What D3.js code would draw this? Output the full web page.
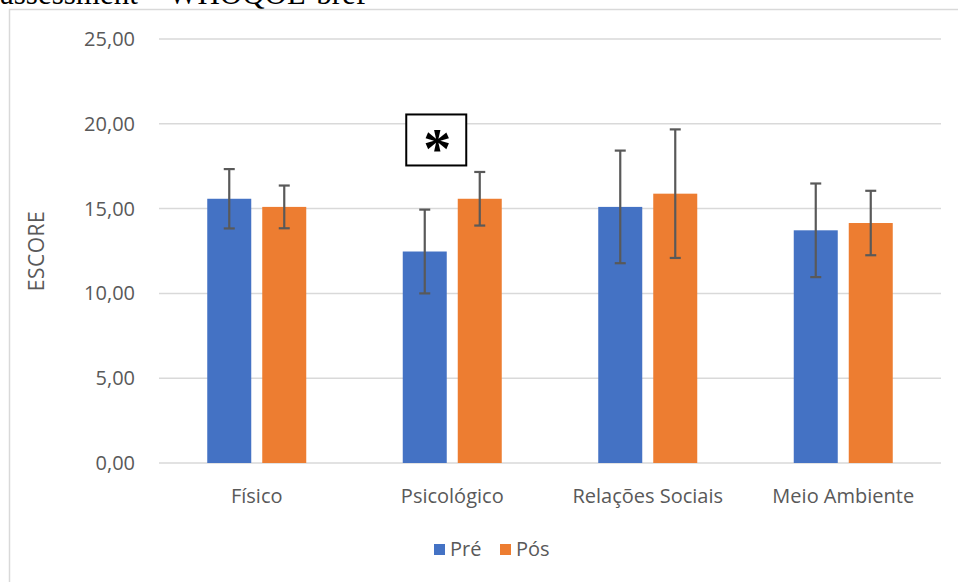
<!DOCTYPE html>
<html>
<head>
<meta charset="utf-8">
<script src="https://cdn.jsdelivr.net/npm/d3@7"></script>
<style>
  body { margin: 0; background: #fff; }
  svg { display: block; }
</style>
</head>
<body>
<div id="chart"></div>
<script>
var width = 958, height = 582;

var categories = ["Físico", "Psicológico", "Relações Sociais", "Meio Ambiente"];
var series = ["Pré", "Pós"];
var colors = ["#4472C4", "#ED7D31"];
var preMeans = [15.58, 12.47, 15.10, 13.72];
var preSd = [1.75, 2.47, 3.32, 2.76];
var posMeans = [15.10, 15.58, 15.88, 14.15];
var posSd = [1.26, 1.58, 3.79, 1.90];
var yTicks = [0, 5, 10, 15, 20, 25];

var font = "'Open Sans', 'Noto Sans', sans-serif";

var svg = d3.select("#chart").append("svg")
  .attr("width", width)
  .attr("height", height);

// caption of the page, cut off at the top
svg.append("text")
  .attr("x", 0)
  .attr("y", 4)
  .style("font-family", "'Liberation Serif', 'Times New Roman', serif")
  .style("font-size", "31px")
  .attr("fill", "#000")
  .text("assessment – WHOQOL-bref");

// chart frame
svg.append("rect")
  .attr("x", 9.5)
  .attr("y", 9.5)
  .attr("width", 1000)
  .attr("height", 700)
  .attr("fill", "#fff")
  .attr("stroke", "#d9d9d9")
  .attr("stroke-width", 1.5);

var x0 = d3.scaleBand().domain(categories).range([159, 941]);
var x1 = d3.scaleBand().domain(series).range([-49.5, 49.5]).paddingInner(0.2);
var y = d3.scaleLinear().domain([0, 25]).range([463, 39]);

// gridlines
svg.append("g")
  .selectAll("line")
  .data(yTicks)
  .join("line")
  .attr("x1", x0.range()[0])
  .attr("x2", x0.range()[1])
  .attr("y1", d => y(d))
  .attr("y2", d => y(d))
  .attr("stroke", "#d9d9d9")
  .attr("stroke-width", 1.5);

// y axis labels
var fmt = d => d.toFixed(2).replace(".", ",");
var yAxis = svg.append("g")
  .attr("transform", "translate(147,0)")
  .call(d3.axisLeft(y).tickValues(yTicks).tickFormat(fmt).tickSize(0).tickPadding(12));
yAxis.select(".domain").remove();
yAxis.selectAll("text")
  .style("font-family", font)
  .style("font-size", "20px")
  .attr("fill", "#595959");

svg.append("text")
  .attr("transform", "translate(44," + y(12.5) + ") rotate(-90)")
  .attr("text-anchor", "middle")
  .style("font-family", font)
  .style("font-size", "21px")
  .style("letter-spacing", "0.5px")
  .attr("fill", "#595959")
  .text("ESCORE");

// x axis labels
var xAxis = svg.append("g")
  .attr("transform", "translate(0," + y(0) + ")")
  .call(d3.axisBottom(x0).tickSize(0).tickPadding(26));
xAxis.select(".domain").remove();
xAxis.selectAll("text")
  .style("font-family", font)
  .style("font-size", "20px")
  .attr("fill", "#595959");

// build rows from the arrays
var rows = [];
categories.forEach(function (c, i) {
  rows.push({cat: c, s: "Pré", mean: preMeans[i], sd: preSd[i], color: colors[0]});
  rows.push({cat: c, s: "Pós", mean: posMeans[i], sd: posSd[i], color: colors[1]});
});
var cx = d => x0(d.cat) + x0.bandwidth() / 2 + x1(d.s);

svg.append("g")
  .selectAll("rect")
  .data(rows)
  .join("rect")
  .attr("x", d => cx(d))
  .attr("y", d => y(d.mean))
  .attr("width", x1.bandwidth())
  .attr("height", d => y(0) - y(d.mean))
  .attr("fill", d => d.color);

// error bars
var err = svg.append("g")
  .selectAll("g")
  .data(rows)
  .join("g")
  .attr("stroke", "#595959")
  .attr("stroke-width", 2.2);
var mid = d => cx(d) + x1.bandwidth() / 2;
err.append("line")
  .attr("x1", mid).attr("x2", mid)
  .attr("y1", d => y(d.mean + d.sd))
  .attr("y2", d => y(d.mean - d.sd));
[1, -1].forEach(function (k) {
  err.append("line")
    .attr("x1", d => mid(d) - 5.5).attr("x2", d => mid(d) + 5.5)
    .attr("y1", d => y(d.mean + k * d.sd))
    .attr("y2", d => y(d.mean + k * d.sd));
});

// significance marker over Psicológico
var sx = x0("Psicológico") + x0.bandwidth() / 2 - 16;
svg.append("rect")
  .attr("x", sx - 30)
  .attr("y", y(20.55))
  .attr("width", 60)
  .attr("height", 51)
  .attr("fill", "#fff")
  .attr("stroke", "#000")
  .attr("stroke-width", 2);
svg.append("text")
  .attr("x", sx + 1)
  .attr("y", y(20.55) + 54)
  .attr("text-anchor", "middle")
  .style("font-family", "'Liberation Serif', 'Times New Roman', serif")
  .style("font-weight", "bold")
  .style("font-size", "56px")
  .attr("fill", "#000")
  .text("*");

// legend
var legend = svg.append("g")
  .selectAll("g")
  .data(series)
  .join("g")
  .attr("transform", (d, i) => "translate(" + (434 + i * 66) + ",544)");
legend.append("rect")
  .attr("width", 11)
  .attr("height", 11)
  .attr("fill", (d, i) => colors[i]);
legend.append("text")
  .attr("x", 16)
  .attr("y", 11.5)
  .style("font-family", font)
  .style("font-size", "20px")
  .attr("fill", "#595959")
  .text(d => d);
</script>
</body>
</html>
